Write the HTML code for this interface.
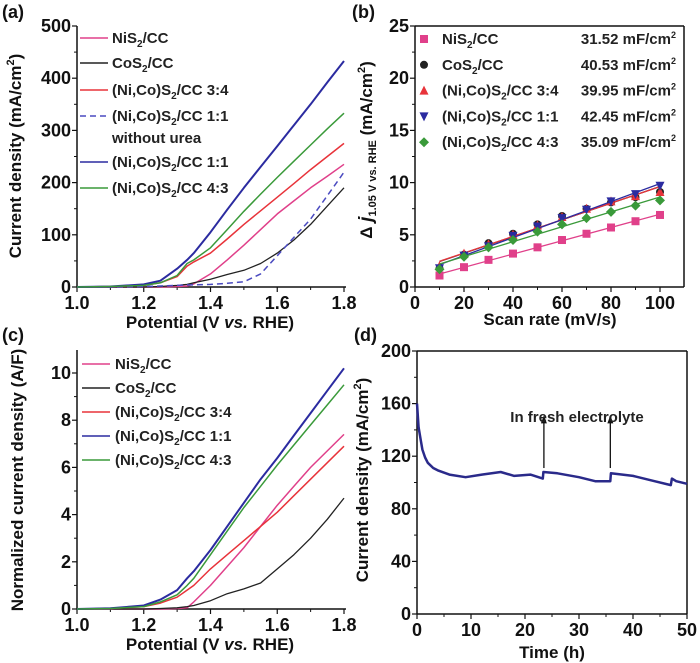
<!DOCTYPE html>
<html><head><meta charset="utf-8"><style>
body{margin:0;background:#fff}
svg{display:block;font-family:"Liberation Sans",Arial,sans-serif}
.tk{font-size:18px;font-weight:bold;fill:#111}
.tt{font-size:17px;font-weight:bold;fill:#111}
.pl{font-size:18px;font-weight:bold;fill:#111}
.lg{font-size:15px;font-weight:bold;fill:#222}
</style></head><body>
<svg id="fig" width="700" height="663" viewBox="0 0 700 663"></svg>
<script>
// ---- Panel (a) data ----
const aX=[1.0,1.1,1.2,1.25,1.3,1.33,1.35,1.4,1.45,1.5,1.55,1.6,1.65,1.7,1.75,1.8];
const aNi=[0,0,0,0,1,2,6,25,52,80,110,140,165,190,212,235];
const aCo=[0,0,0,1,3,5,8,15,24,32,45,65,90,120,155,190];
const a34=[0,1,3,8,20,40,48,65,92,120,146,172,198,225,250,275];
const a11d=[0,0,1,2,3,4,4,5,7,10,25,60,95,130,175,220];
const a11=[0,1,5,12,35,52,65,105,148,190,230,270,310,350,392,433];
const a43=[0,1,3,8,22,45,52,75,110,145,178,210,241,272,303,333];
// ---- Panel (b) data ----
const bX=[10,20,30,40,50,60,70,80,90,100];
const bNi=[1.1,1.9,2.6,3.2,3.8,4.5,5.1,5.7,6.3,6.9];
const bCo=[1.8,3.1,4.2,5.1,6.0,6.8,7.5,8.1,8.6,9.1];
const b34=[2.0,3.2,4.1,5.0,5.9,6.7,7.5,8.2,8.7,9.1];
const b11=[1.8,3.0,3.9,4.9,5.8,6.6,7.4,8.2,8.9,9.7];
const b43=[1.7,2.9,3.8,4.5,5.3,6.0,6.6,7.2,7.8,8.3];
// ---- Panel (c) data ----
const cX=[1.0,1.1,1.2,1.25,1.3,1.33,1.35,1.4,1.45,1.5,1.55,1.6,1.65,1.7,1.75,1.8];
const cNi=[0,0,0,0,0.02,0.05,0.3,1.0,1.8,2.6,3.5,4.4,5.2,6.0,6.7,7.4];
const cCo=[0,0,0,0.02,0.05,0.1,0.15,0.35,0.65,0.85,1.1,1.7,2.3,3.0,3.8,4.7];
const c34=[0,0.02,0.1,0.25,0.5,0.8,1.0,1.7,2.3,2.9,3.5,4.1,4.8,5.5,6.2,6.9];
const c11=[0,0.03,0.15,0.4,0.8,1.3,1.6,2.5,3.5,4.5,5.5,6.4,7.35,8.3,9.25,10.2];
const c43=[0,0.02,0.1,0.3,0.6,1.0,1.3,2.3,3.3,4.3,5.2,6.1,6.95,7.8,8.65,9.5];
// ---- Panel (d) data ----
const dT=[0,0.3,0.7,1,1.5,2,3,4,6,9,12,15.5,18,21,23.3,23.4,26,30,33,35.8,35.9,40,44,47,47.2,48,50];
const dJ=[160,142,132,125,119,115,111,109,106,104,106,108,105,106,103,108,107,104,101,101,107,105,101,98,103,101,99];

const S="http://www.w3.org/2000/svg",fig=document.getElementById('fig');
function mk(t,a,p,txt){const e=document.createElementNS(S,t);for(const k in a)e.setAttribute(k,a[k]);if(txt!==undefined)e.innerHTML=txt;(p||fig).appendChild(e);return e;}
function lin(d0,d1,r0,r1){return v=>r0+(v-d0)/(d1-d0)*(r1-r0);}

function axes(g,X,Y,xt,yt,x0,x1,y0,y1,box,xfmt,yfmt){
  mk('line',{x1:x0,y1:y0,x2:x1,y2:y0,stroke:'#111','stroke-width':1.5},g);
  mk('line',{x1:x0,y1:y0,x2:x0,y2:y1,stroke:'#111','stroke-width':1.5},g);
  if(box){mk('line',{x1:x0,y1:y1,x2:x1,y2:y1,stroke:'#111','stroke-width':1.5},g);mk('line',{x1:x1,y1:y0,x2:x1,y2:y1,stroke:'#111','stroke-width':1.5},g);}
  xt.forEach((v,i)=>{const x=X(v);mk('line',{x1:x,y1:y0,x2:x,y2:y0+5,stroke:'#111','stroke-width':1.2},g);
    if(i<xt.length-1){const m=X((v+xt[i+1])/2);mk('line',{x1:m,y1:y0,x2:m,y2:y0+3,stroke:'#111'},g);}
    const t=mk('text',{x:x,y:y0+22,'text-anchor':'middle',class:'tk'},g,xfmt(v));});
  yt.forEach((v,i)=>{const y=Y(v);mk('line',{x1:x0,y1:y,x2:x0-5,y2:y,stroke:'#111','stroke-width':1.2},g);
    if(i<yt.length-1){const m=Y((v+yt[i+1])/2);mk('line',{x1:x0,y1:m,x2:x0-3,y2:m,stroke:'#111'},g);}
    const t=mk('text',{x:x0-6,y:y+6,'text-anchor':'end',class:'tk'},g,yfmt(v));});
}
function path(g,X,Y,xs,ys,col,w,dash,name){let d='';xs.forEach((x,i)=>{d+=(i?'L':'M')+X(x).toFixed(1)+','+Y(ys[i]).toFixed(1);});
  const p=mk('path',{d:d,fill:'none',stroke:col,'stroke-width':w,'stroke-dasharray':dash||'none','stroke-linejoin':'round'},g);
  return p;}
const sub='<tspan font-size="10" dy="4">2</tspan><tspan dy="-4">';
function lab(s){return s.replace('S2',"S"+sub)+'</tspan>';}

const cols={ni:'#e0408a',co:'#222',r:'#e8333a',b:'#2b2ba0',g:'#3a9a3a'};

// ---------- (a) ----------
{const g=mk('g',{});
 const X=lin(1.0,1.8,77,344),Y=lin(0,500,287,26);
 axes(g,X,Y,[1.0,1.2,1.4,1.6,1.8],[0,100,200,300,400,500],77,346,287,26,false,v=>v.toFixed(1),v=>v);
 path(g,X,Y,aX,aNi,cols.ni,1.5,null,'line-nis2');
 path(g,X,Y,aX,aCo,cols.co,1.3,null,'line-cos2');
 path(g,X,Y,aX,a34,cols.r,1.5,null,'line-34');
 path(g,X,Y,aX,a11d,'#4a4ac0',1.5,'6,4','line-11-without-urea');
 path(g,X,Y,aX,a11,cols.b,2,null,'line-11');
 path(g,X,Y,aX,a43,cols.g,1.5,null,'line-43');
 const L=[['NiS2/CC',cols.ni,38,null],['CoS2/CC',cols.co,63,null],['(Ni,Co)S2/CC 3:4',cols.r,90,null],['(Ni,Co)S2/CC 1:1','#4a4ac0',116,'6,4'],['(Ni,Co)S2/CC 1:1',cols.b,162,null],['(Ni,Co)S2/CC 4:3',cols.g,188,null]];
 L.forEach(l=>{const e=mk('g',{},g);mk('line',{x1:80,y1:l[2],x2:108,y2:l[2],stroke:l[1],'stroke-width':1.5,'stroke-dasharray':l[3]||'none'},e);mk('text',{x:112,y:l[2]+5,class:'lg'},e,lab(l[0]));});
 mk('text',{x:112,y:143,class:'lg'},g,'without urea');
 mk('text',{x:2,y:18,class:'pl',},g,'(a)');
 mk('text',{x:0,y:0,class:'tt',transform:'translate(21,156) rotate(-90)','text-anchor':'middle',},g,'Current density (mA/cm<tspan font-size="11" dy="-7">2</tspan><tspan dy="7">)</tspan>');
 mk('text',{x:210,y:328,class:'tt','text-anchor':'middle',},g,'Potential (V <tspan font-style="italic">vs.</tspan> RHE)');
}
// ---------- (b) ----------
{const g=mk('g',{});
 const X=lin(0,100,415,660),Y=lin(0,25,287,26);
 axes(g,X,Y,[0,20,40,60,80,100],[0,5,10,15,20,25],415,684,287,26,true,v=>v,v=>v);
 const sets=[[bNi,cols.ni,'sq','31.52','NiS2/CC'],[bCo,cols.co,'ci','40.53','CoS2/CC'],[b34,cols.r,'tu','39.95','(Ni,Co)S2/CC 3:4'],[b11,cols.b,'td','42.45','(Ni,Co)S2/CC 1:1'],[b43,cols.g,'di','35.09','(Ni,Co)S2/CC 4:3']];
 function marker(p,type,x,y,c){if(type==='sq')mk('rect',{x:x-4,y:y-4,width:8,height:8,fill:c},p);
  else if(type==='ci')mk('circle',{cx:x,cy:y,r:4,fill:c},p);
  else if(type==='tu')mk('polygon',{points:`${x-4.5},${y+4} ${x+4.5},${y+4} ${x},${y-5}`,fill:c},p);
  else if(type==='td')mk('polygon',{points:`${x-4.5},${y-4} ${x+4.5},${y-4} ${x},${y+5}`,fill:c},p);
  else mk('polygon',{points:`${x},${y-5} ${x+5},${y} ${x},${y+5} ${x-5},${y}`,fill:c},p);}
 sets.forEach(s=>{const ys=s[0];const n=bX.length;const mx=bX.reduce((a,b)=>a+b)/n,my=ys.reduce((a,b)=>a+b)/n;
  let sxy=0,sxx=0;bX.forEach((x,i)=>{sxy+=(x-mx)*(ys[i]-my);sxx+=(x-mx)*(x-mx);});const k=sxy/sxx,b0=my-k*mx;
  const f=mk('line',{x1:X(10),y1:Y(b0+k*10),x2:X(100),y2:Y(b0+k*100),stroke:s[1],'stroke-width':1.3},g);
  bX.forEach((x,i)=>{const m=mk('g',{},g);marker(m,s[2],X(x),Y(ys[i]),s[1]);});});
 sets.forEach((s,i)=>{const y=39+i*25.8;const e=mk('g',{},g);marker(e,s[2],424,y,s[1]);
  mk('text',{x:442,y:y+5,class:'lg'},e,lab(s[4]));mk('text',{x:676,y:y+5,class:'lg','text-anchor':'end'},e,s[3]+' mF/cm<tspan font-size="9" dy="-6">2</tspan>');});
 mk('text',{x:352,y:18,class:'pl',},g,'(b)');
 mk('text',{x:0,y:0,class:'tt',transform:'translate(372,150) rotate(-90)','text-anchor':'middle',},g,'Δ <tspan font-style="italic" font-size="19">j</tspan><tspan font-size="11" dy="4">1.05 V vs. RHE</tspan><tspan dy="-4"> (mA/cm</tspan><tspan font-size="11" dy="-7">2</tspan><tspan dy="7">)</tspan>');
 mk('text',{x:550,y:325,class:'tt','text-anchor':'middle',},g,'Scan rate (mV/s)');
}
// ---------- (c) ----------
{const g=mk('g',{});
 const X=lin(1.0,1.8,77,344),Y=lin(0,10,609,373);
 axes(g,X,Y,[1.0,1.2,1.4,1.6,1.8],[0,2,4,6,8,10],77,346,609,350,false,v=>v.toFixed(1),v=>v);
 path(g,X,Y,cX,cNi,cols.ni,1.5,null,'line-nis2');
 path(g,X,Y,cX,cCo,cols.co,1.3,null,'line-cos2');
 path(g,X,Y,cX,c34,cols.r,1.5,null,'line-34');
 path(g,X,Y,cX,c11,cols.b,2,null,'line-11');
 path(g,X,Y,cX,c43,cols.g,1.5,null,'line-43');
 const L=[['NiS2/CC',cols.ni],['CoS2/CC',cols.co],['(Ni,Co)S2/CC 3:4',cols.r],['(Ni,Co)S2/CC 1:1',cols.b],['(Ni,Co)S2/CC 4:3',cols.g]];
 L.forEach((l,i)=>{const y=364+i*24;const e=mk('g',{},g);mk('line',{x1:82,y1:y,x2:110,y2:y,stroke:l[1],'stroke-width':1.5},e);mk('text',{x:115,y:y+5,class:'lg'},e,lab(l[0]));});
 mk('text',{x:2,y:341,class:'pl',},g,'(c)');
 mk('text',{x:0,y:0,class:'tt',transform:'translate(23,480) rotate(-90)','text-anchor':'middle',},g,'Normalized current density (A/F)');
 mk('text',{x:210,y:650,class:'tt','text-anchor':'middle',},g,'Potential (V <tspan font-style="italic">vs.</tspan> RHE)');
}
// ---------- (d) ----------
{const g=mk('g',{});
 const X=lin(0,50,417,687),Y=lin(0,200,614,351);
 axes(g,X,Y,[0,10,20,30,40,50],[0,40,80,120,160,200],417,687,614,351,true,v=>v,v=>v);
 path(g,X,Y,dT,dJ,'#2a2a8a',2.5,null,'line-stability');
 [23.5,35.8].forEach(t=>{const a=mk('g',{},g);const x=X(t);
  mk('line',{x1:x,y1:Y(111),x2:x,y2:Y(146),stroke:'#111','stroke-width':1.3},a);mk('polygon',{points:`${x-3},${Y(145)} ${x+3},${Y(145)} ${x},${Y(151)}`,fill:'#111'},a);});
 mk('text',{x:577,y:422,'font-size':'15','font-weight':'bold',fill:'#222','text-anchor':'middle',},g,'In fresh electrolyte');
 mk('text',{x:354,y:341,class:'pl',},g,'(d)');
 mk('text',{x:0,y:0,class:'tt',transform:'translate(368,480) rotate(-90)','text-anchor':'middle',},g,'Current density (mA/cm<tspan font-size="11" dy="-7">2</tspan><tspan dy="7">)</tspan>');
 mk('text',{x:552,y:658,class:'tt','text-anchor':'middle',},g,'Time (h)');
}
</script>
</body></html>
